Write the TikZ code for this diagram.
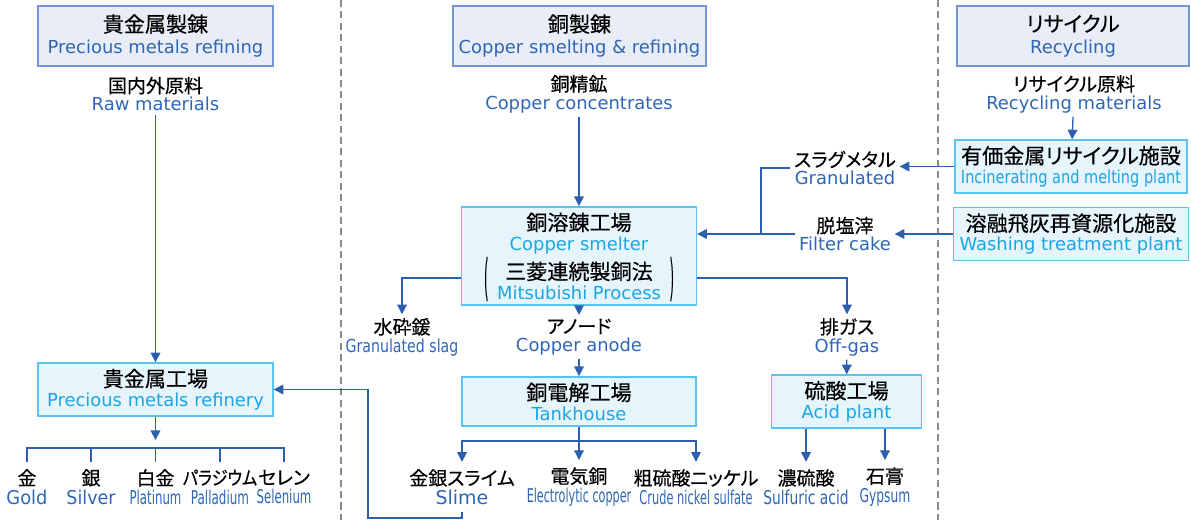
\documentclass[tikz,border=0pt]{standalone}
\usepackage{fontspec}
\setmainfont{Noto Sans CJK JP}[RawFeature=+palt, FakeBold=0.4]
\newfontfamily\enfont{DejaVu Sans}
\usepackage{graphicx}
\usetikzlibrary{arrows.meta}
\usetikzlibrary{positioning}

\definecolor{hdrfill}{HTML}{E9EDF8}
\definecolor{hdrline}{HTML}{7396D3}
\definecolor{plantfill}{HTML}{E6F4FC}
\definecolor{plantline}{HTML}{5CC3EE}
\definecolor{engblue}{HTML}{2E66B5}
\definecolor{engcyan}{HTML}{1BA5E5}
\definecolor{flowblue}{HTML}{2C5FAD}
\definecolor{sepgray}{HTML}{8A8A8A}

\newcommand{\eb}[1]{{\enfont\fontsize{10.2}{\the\baselineskip}\selectfont\color{engblue}#1}}
\newcommand{\ep}[1]{{\enfont\fontsize{10.8}{\the\baselineskip}\selectfont\color{engblue}#1}}
\newcommand{\ec}[1]{{\enfont\fontsize{10.2}{\the\baselineskip}\selectfont\color{engcyan}#1}}
\newcommand{\squeeze}[2]{\scalebox{#1}[1]{#2}}

\begin{document}
\begin{tikzpicture}[x=0.02cm, y=-0.02cm]
    % Define styles
    \tikzstyle{header} = [rectangle, draw=hdrline, fill=hdrfill, line width=0.8pt, minimum width=4.7cm, minimum height=1.2cm, align=center, font=\fontsize{12}{12.5}\selectfont]
    \tikzstyle{plant} = [rectangle, draw=plantline, fill=plantfill, line width=0.8pt, minimum width=4.7cm, minimum height=0.98cm, align=center, font=\fontsize{12}{11.2}\selectfont]
    \tikzstyle{stream} = [align=center, inner sep=2pt, font=\fontsize{10.8}{10.3}\selectfont]
    \tikzstyle{product} = [stream, inner ysep=4pt, font=\fontsize{10.8}{11}\selectfont]
    \tikzstyle{flow} = [-{Triangle[length=5.5pt, width=5.5pt]}, draw=flowblue, line width=0.75pt]
    \tikzstyle{link} = [draw=flowblue, line width=0.75pt]
    \tikzstyle{divider} = [draw=sepgray, line width=1pt, dash pattern=on 4pt off 2.5pt]

    \useasboundingbox (0,0) rectangle (1191,520);

    % Dividers
    \draw[divider] (341,0) -- (341,520);
    \draw[divider] (938,0) -- (938,520);

    % Headers
    \node[header] (pmhead) at (155.5,36) {貴金属製錬\\\eb{Precious metals refining}};
    \node[header] (cuhead) at (579.5,36) {銅製錬\\\eb{Copper smelting \& refining}};
    \node[header, minimum width=4.64cm] (rchead) at (1073,36) {リサイクル\\\eb{Recycling}};

    % Raw materials
    \node[stream] (raw) at (155.5,94) {国内外原料\\\eb{Raw materials}};
    \node[stream] (conc) at (579,94) {銅精鉱\\\eb{Copper concentrates}};
    \node[stream] (rcmat) at (1074,94) {リサイクル原料\\\eb{Recycling materials}};

    % Plants
    \node[plant] (pmref) at (155.5,389.5) {貴金属工場\\\ec{Precious metals refinery}};
    \node[plant, minimum height=1.96cm] (smelter) at (579,256) {銅溶錬工場\\\ec{Copper smelter}\\[3.5pt]三菱連続製銅法\\\ec{Mitsubishi Process}};
    \node[font=\fontsize{12}{12}\selectfont] (lpar) at (486,279) {\scalebox{0.6}[2.1]{(}};
    \node[font=\fontsize{12}{12}\selectfont] (rpar) at (672,279) {\scalebox{0.6}[2.1]{)}};
    \node[plant, minimum width=4.68cm] (tank) at (579,401.5) {銅電解工場\\\ec{Tankhouse}};
    \node[plant, minimum width=3cm] (acid) at (846.5,401.5) {硫酸工場\\\ec{Acid plant}};
    \node[plant, minimum width=4.56cm] (incin) at (1071,166.5) {有価金属リサイクル施設\\\ec{\squeeze{0.81}{Incinerating and melting plant}}};
    \node[plant, minimum width=4.56cm] (wash) at (1071,234) {溶融飛灰再資源化施設\\\ec{Washing treatment plant}};

    % Intermediates
    \node[stream] (slag) at (402,337) {水砕鍰\\\eb{\squeeze{0.79}{Granulated slag}}};
    \node[stream] (anode) at (579,337) {アノード\\\eb{Copper anode}};
    \node[stream] (offgas) at (847,337) {排ガス\\\eb{Off-gas}};
    \node[stream] (gran) at (845,168) {スラグメタル\\\eb{Granulated}};
    \node[stream] (fcake) at (845,234) {脱塩滓\\\eb{Filter cake}};

    % Products
    \node[product] (gold) at (27,487) {金\\\ep{\squeeze{0.94}{Gold}}};
    \node[product] (silver) at (91,487) {銀\\\ep{\squeeze{0.92}{Silver}}};
    \node[product] (plat) at (155.5,487) {白金\\\ep{\squeeze{0.62}{Platinum}}};
    \node[product] (pall) at (220,487) {\squeeze{0.85}{パラジウム}\\\ep{\squeeze{0.63}{Palladium}}};
    \node[product] (sel) at (284,487) {セレン\\\ep{\squeeze{0.62}{Selenium}}};
    \node[product] (slime) at (462,487) {金銀スライム\\\ep{Slime}};
    \node[product] (ecu) at (579,487) {電気銅\\\ep{\squeeze{0.59}{Electrolytic copper}}};
    \node[product] (nickel) at (696,487) {粗硫酸ニッケル\\\ep{\squeeze{0.6}{Crude nickel sulfate}}};
    \node[product] (sulf) at (806,487) {濃硫酸\\\ep{\squeeze{0.73}{Sulfuric acid}}};
    \node[product] (gyps) at (885,487) {石膏\\\ep{\squeeze{0.65}{Gypsum}}};

    % Junctions
    \coordinate (pmjoin) at (155.5,448);
    \coordinate (tkjoin) at (579,441);
    \coordinate (cujoin) at (761,234);
    \coordinate (loop) at (368,518);

    % Relations
    \draw[flow] (raw) -- (pmref);
    \draw[flow, shorten >=4.5pt] (pmref) -- (pmjoin);
    \draw[link] (gold.north) |- (pmjoin);
    \draw[link] (silver.north) |- (pmjoin);
    \draw[link] (plat.north) -- (pmjoin);
    \draw[link] (pall.north) |- (pmjoin);
    \draw[link] (sel.north) |- (pmjoin);

    \draw[flow] (conc) -- (smelter);
    \draw[flow] ([yshift=-0.44cm]smelter.west) -| (slag);
    \draw[flow] (smelter) -- (anode);
    \draw[flow] ([yshift=-0.44cm]smelter.east) -| (offgas);
    \draw[flow] (anode) -- (tank);
    \draw[flow] (offgas) -- (acid);
    \draw[flow] (tank) -- (ecu);
    \draw[flow] (tkjoin) -| (slime);
    \draw[flow] (tkjoin) -| (nickel);
    \draw[flow] (acid.south -| sulf) -- (sulf);
    \draw[flow] (acid.south -| gyps) -- (gyps);
    \draw[flow] (slime.south) |- (loop) |- (pmref.east);

    \draw[flow] (rcmat) -- (incin);
    \draw[flow] (incin.west) -- (incin.west -| gran.east);
    \draw[flow] (wash.west) -- (wash.west -| fcake.east);
    \draw[link] (gran.west) -| (cujoin);
    \draw[flow] (fcake.west) -- (fcake.west -| smelter.east);

\end{tikzpicture}
\end{document}
